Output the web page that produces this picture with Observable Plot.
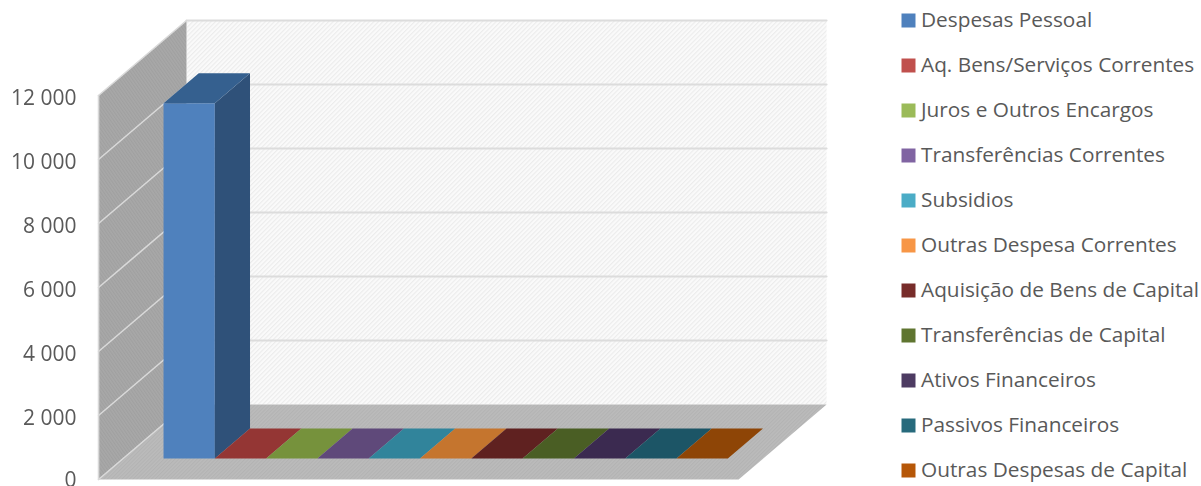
<!DOCTYPE html>
<html lang="pt">
<head>
<meta charset="utf-8">
<script src="https://cdn.jsdelivr.net/npm/d3@7"></script>
<script src="https://cdn.jsdelivr.net/npm/@observablehq/plot@0.6"></script>
<style>
html,body{margin:0;padding:0;background:#fff;overflow:hidden}
#wrap{display:flex;width:1201px;height:486px}
#wrap svg{display:block;max-width:none;font-family:"Open Sans",sans-serif}
#wrap svg.main{filter:blur(0.4px)}
</style>
</head>
<body>
<div id="wrap"></div>
<script>
const categories = ["Despesas Pessoal","Aq. Bens/Serviços Correntes","Juros e Outros Encargos","Transferências Correntes","Subsidios","Outras Despesa Correntes","Aquisição de Bens de Capital","Transferências de Capital","Ativos Financeiros","Passivos Financeiros","Outras Despesas de Capital"];
const values = [11100,0,0,0,0,0,0,0,0,0,0];
const legendColors = ["#4f81bd","#c0504d","#9bbb59","#8064a2","#4bacc6","#f79646","#772c2a","#5f7530","#4d3b62","#276a7c","#b65708"];
const topColors = ["#35608f","#943634","#76923c","#5f497a","#31849b","#c5752e","#5f2120","#4a5e24","#3b2a50","#1c5566","#8e4506"];
const sideColor = "#2f5179";
const yTicks = [0,2000,4000,6000,8000,10000,12000];

// oblique 3D projection, in data units: category units on x, value units on y
const depthX = 1.715, depthY = 2344;
const wallLeft = -0.787, wallRight = 11.69;
const barFront = 0.28, barBack = 0.68;
const P = (x, v, d) => ({x: x + d * depthX, y: v + d * depthY});
const poly = (pts, fill) => Plot.line(pts, {x: "x", y: "y", fill, stroke: "none"});

const defs = () => d3.create("svg:g").html(`
  <defs>
  <pattern id="hatchBack" width="3.2" height="3.2" patternUnits="userSpaceOnUse" patternTransform="rotate(45)">
    <rect width="3.2" height="3.2" fill="#fafafa"/><rect width="1.1" height="3.2" fill="#ececec"/></pattern>
  <pattern id="hatchWall" width="2.6" height="2.6" patternUnits="userSpaceOnUse" patternTransform="rotate(-35)">
    <rect width="2.6" height="2.6" fill="#a8a8a8"/><rect width="1.1" height="2.6" fill="#a0a0a0"/></pattern>
  <pattern id="hatchFloor" width="2.6" height="2.6" patternUnits="userSpaceOnUse" patternTransform="rotate(45)">
    <rect width="2.6" height="2.6" fill="#bbbbbb"/><rect width="1.1" height="2.6" fill="#b3b3b3"/></pattern>
  </defs>`).node();

const gridBack = yTicks.map(v => Plot.line([P(wallLeft,v,1),P(wallRight,v,1)], {x:"x",y:"y",stroke:"#dcdcdc",strokeWidth:2}));
const gridWall = yTicks.map(v => Plot.line([P(wallLeft,v,0),P(wallLeft,v,1)], {x:"x",y:"y",stroke:"#d9d9d9",strokeWidth:1.6}));

const bars = values.flatMap((v,i) => {
  const a = i, b = i + 1;
  const out = [];
  if (v > 0) {
    out.push(poly([P(a,0,barFront),P(b,0,barFront),P(b,v,barFront),P(a,v,barFront)], legendColors[i]));
    out.push(poly([P(b,0,barFront),P(b,0,barBack),P(b,v,barBack),P(b,v,barFront)], sideColor));
  }
  out.push(poly([P(a,v,barFront),P(b,v,barFront),P(b,v,barBack),P(a,v,barBack)], topColors[i]));
  return out;
});

const fmt = d => d3.format(",")(d).replace(/,/g, " ");
const axisOpts = {anchor: "left", tickSize: 0, tickPadding: 22, tickFormat: fmt, fontSize: 21, fill: "#595959", label: null};

const chart = Plot.plot({
  className: "main",
  width: 900, height: 486,
  marginLeft: 98, marginRight: 0, marginTop: 0, marginBottom: 0,
  x: {type: "linear", domain: [0, 11], range: [138.4, 702.7], axis: null},
  y: {type: "linear", domain: [0, 12000], range: [479, 95], axis: null},
  marks: [
    defs,
    poly([P(wallLeft,0,1),P(wallRight,0,1),P(wallRight,12000,1),P(wallLeft,12000,1)], "url(#hatchBack)"),
    poly([P(wallLeft,0,0),P(wallLeft,0,1),P(wallLeft,12000,1),P(wallLeft,12000,0)], "url(#hatchWall)"),
    poly([P(wallLeft,0,0),P(wallRight,0,0),P(wallRight,0,1),P(wallLeft,0,1)], "url(#hatchFloor)"),
    ...gridBack.slice(1),
    ...gridWall,
    Plot.line([P(wallLeft,0,0),P(wallLeft,12000,0)], {x:"x",y:"y",stroke:"#d9d9d9",strokeWidth:1.6}),
    ...bars,
    Plot.axisY(yTicks.filter(d => d > 0), {...axisOpts, dy: 3}),
    Plot.axisY(yTicks.filter(d => d === 0), {...axisOpts, dy: 1})
  ]
});
chart.classList.add("main");

const legend = Plot.plot({
  width: 301, height: 486,
  margin: 0,
  x: {type: "linear", domain: [0, 301], range: [0, 301], axis: null},
  y: {type: "point", domain: categories, range: [20, 470], padding: 0, axis: null},
  color: {type: "ordinal", domain: categories, range: legendColors},
  marks: [
    Plot.dot(categories, {x: () => 8, y: d => d, symbol: "square", r: 7.9, fill: d => d, stroke: "none"}),
    Plot.text(categories, {x: () => 20.5, y: d => d, text: d => d, textAnchor: "start", fontSize: 20.8, fill: "#595959"})
  ]
});

document.getElementById("wrap").append(chart, legend);
</script>
</body>
</html>
